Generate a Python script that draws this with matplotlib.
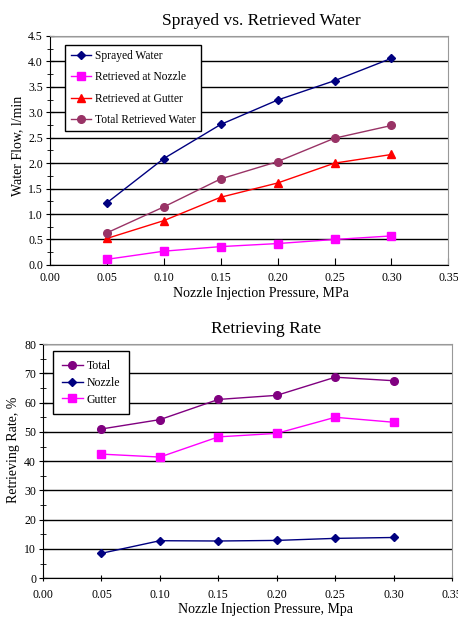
import matplotlib.pyplot as plt
from matplotlib.ticker import MultipleLocator, FormatStrFormatter

plt.rcParams['font.family'] = ['Liberation Serif', 'DejaVu Serif']

pressure = [0.05, 0.10, 0.15, 0.20, 0.25, 0.30]

# Top chart: water flow, l/min
sprayed = [1.22, 2.09, 2.76, 3.24, 3.62, 4.06]
ret_nozzle = [0.11, 0.27, 0.36, 0.42, 0.50, 0.57]
ret_gutter = [0.52, 0.87, 1.33, 1.61, 2.00, 2.17]
ret_total = [0.63, 1.14, 1.69, 2.03, 2.49, 2.74]

# Bottom chart: retrieving rate, %
rate_total = [51.0, 54.2, 61.1, 62.5, 68.7, 67.5]
rate_nozzle = [8.5, 12.8, 12.7, 12.9, 13.6, 13.9]
rate_gutter = [42.4, 41.4, 48.3, 49.5, 55.0, 53.3]

fig = plt.figure(figsize=(4.58, 6.19), dpi=100)
ax1 = fig.add_axes([0.109, 0.572, 0.870, 0.370])
ax2 = fig.add_axes([0.094, 0.066, 0.893, 0.378])


def style_axes(ax, ymax, ystep, yminor, yfmt, xdir):
    ax.set_xlim(0, 0.35)
    ax.set_ylim(0, ymax)
    ax.xaxis.set_major_locator(MultipleLocator(0.05))
    ax.xaxis.set_major_formatter(FormatStrFormatter('%.2f'))
    ax.yaxis.set_major_locator(MultipleLocator(ystep))
    ax.yaxis.set_minor_locator(MultipleLocator(yminor))
    ax.yaxis.set_major_formatter(FormatStrFormatter(yfmt))
    ax.grid(axis='y', which='major', color='black', linewidth=1.0)
    ax.set_axisbelow(True)
    ax.spines['top'].set_color('#999999')
    ax.spines['right'].set_color('#999999')
    ax.tick_params(axis='x', direction=xdir, length=5, labelsize=8.5, pad=5)
    ax.tick_params(axis='y', which='major', direction='inout', length=6, labelsize=8.5, pad=2)
    ax.tick_params(axis='y', which='minor', direction='inout', length=5)


# Top chart
ax1.plot(pressure, sprayed, color='#000080', marker='D', markersize=4, lw=1, label='Sprayed Water')
ax1.plot(pressure, ret_nozzle, color='#FF00FF', marker='s', markersize=6, lw=1, label='Retrieved at Nozzle')
ax1.plot(pressure, ret_gutter, color='#FF0000', marker='^', markersize=6, lw=1, label='Retrieved at Gutter')
ax1.plot(pressure, ret_total, color='#993366', marker='o', markersize=5.5, lw=1, label='Total Retrieved Water')
style_axes(ax1, 4.5, 0.5, 0.25, '%.1f', 'in')
ax1.set_title('Sprayed vs. Retrieved Water', fontsize=12.5, pad=8, x=0.53)
ax1.set_xlabel('Nozzle Injection Pressure, MPa', fontsize=10, labelpad=2, x=0.53)
ax1.set_ylabel('Water Flow, l/min', fontsize=10, labelpad=3, y=0.52)
leg = ax1.legend(loc='upper left', bbox_to_anchor=(0.03, 0.975), fontsize=8.3,
                 fancybox=False, edgecolor='black', framealpha=1,
                 borderpad=0.45, labelspacing=0.8, handlelength=1.8,
                 handletextpad=0.3, borderaxespad=0.3)
leg.get_frame().set_linewidth(1.0)

# Bottom chart
ax2.plot(pressure, rate_total, color='#800080', marker='o', markersize=5.5, lw=1, label='Total')
ax2.plot(pressure, rate_nozzle, color='#000080', marker='D', markersize=4, lw=1, label='Nozzle')
ax2.plot(pressure, rate_gutter, color='#FF00FF', marker='s', markersize=6, lw=1, label='Gutter')
style_axes(ax2, 80, 10, 5, '%d', 'inout')
ax2.set_title('Retrieving Rate', fontsize=12.5, pad=8, x=0.545)
ax2.set_xlabel('Nozzle Injection Pressure, Mpa', fontsize=10, labelpad=2, x=0.545)
ax2.set_ylabel('Retrieving Rate, %', fontsize=10, labelpad=3, y=0.55)
leg2 = ax2.legend(loc='upper left', bbox_to_anchor=(0.015, 0.985), fontsize=8.5,
                  fancybox=False, edgecolor='black', framealpha=1,
                  borderpad=0.75, labelspacing=0.4, handlelength=1.8,
                  handletextpad=0.3, borderaxespad=0.3)
leg2.get_frame().set_linewidth(1.0)

fig.savefig('out.png', dpi=100)
